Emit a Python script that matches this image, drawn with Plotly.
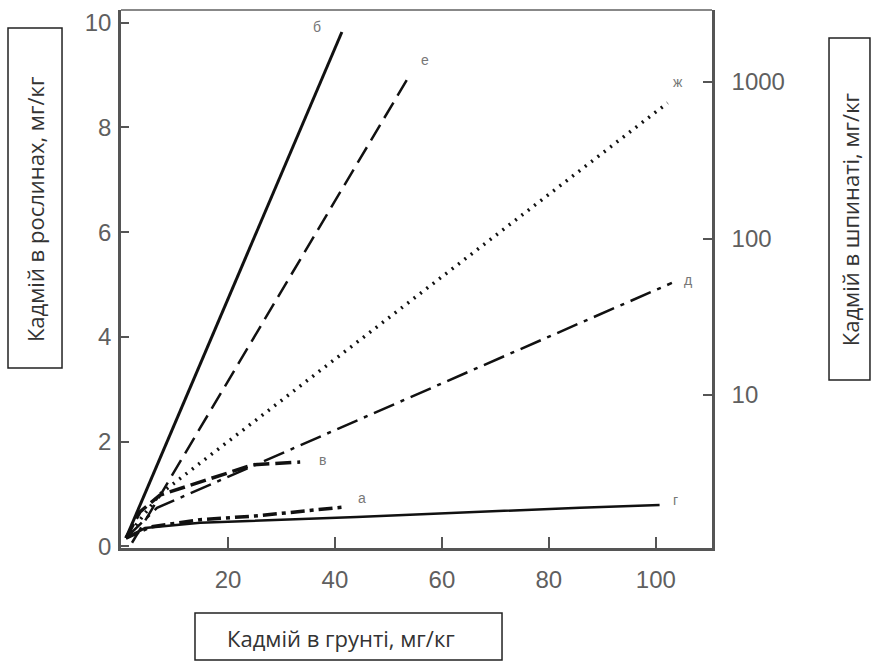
import plotly.graph_objects as go

# ---- data ----
# lines on the left linear axis: Cd in plants, mg/kg
b_x = [0.93, 41.3]
b_y = [0.16, 9.82]
e_x = [2.06, 54.0]
e_y = [0.07, 9.0]
v_x = [0.93, 3.55, 7.29, 17.9, 24.7, 33.5]
v_y = [0.16, 0.66, 0.98, 1.33, 1.56, 1.61]
a_x = [0.93, 5.42, 14.8, 25.0, 41.5]
a_y = [0.16, 0.37, 0.51, 0.58, 0.75]
g_x = [0.93, 4.49, 14.8, 44.1, 85.8, 100.7]
g_y = [0.16, 0.35, 0.45, 0.56, 0.74, 0.79]
# lines on the right log axis: Cd in spinach, mg/kg
zh_x = [0.93, 7.29, 102.2]
zh_y = [1.22, 2.33, 735]
d_x = [0.93, 6.73, 103.0]
d_y = [1.22, 1.90, 52.0]

x_ticks = [20, 40, 60, 80, 100]
y_ticks = [0, 2, 4, 6, 8, 10]
y2_ticks = [10, 100, 1000]

labels = ["б", "е", "ж", "д", "в", "а", "г"]
label_x = [36.6, 56.8, 104.1, 106.0, 37.6, 45.0, 103.6]
label_y = [9.92, 9.29, 8.87, 5.09, 1.65, 0.93, 0.89]

INK = "#111111"
AX = "#555555"
TXT = "#5f5f5f"

fig = go.Figure()

def add(x, y, dash, width, axis="y"):
    fig.add_trace(go.Scatter(x=x, y=y, mode="lines", yaxis=axis,
                             line=dict(color=INK, width=width, dash=dash),
                             showlegend=False, hoverinfo="skip"))

add(b_x, b_y, "solid", 3)
add(e_x, e_y, "18px,8px", 2.5)
add(v_x, v_y, "16px,6px", 3.5)
add(a_x, a_y, "14px,5px,4px,5px", 3.5)
add(g_x, g_y, "solid", 2.5)
add(zh_x, zh_y, "2px,6px", 3.5, "y2")
add(d_x, d_y, "22px,7px,4px,7px", 2.5, "y2")

for t, lx, ly in zip(labels, label_x, label_y):
    fig.add_annotation(x=lx, y=ly, xref="x", yref="y", text=t, showarrow=False,
                       font=dict(family="Liberation Sans", size=14, color="#777777"))

tickfont = dict(family="Liberation Sans", size=24, color=TXT)

fig.update_layout(
    width=875, height=663,
    margin=dict(l=121, r=163, t=10, b=115),
    paper_bgcolor="white", plot_bgcolor="white",
    xaxis=dict(range=[0, 110.5], tickvals=x_ticks, ticks="inside", ticklen=11,
               tickwidth=1.5, tickcolor=AX, showline=True, linecolor=AX, linewidth=2.5,
               showgrid=False, zeroline=False, tickfont=tickfont, ticklabelstandoff=8),
    yaxis=dict(range=[-0.03, 10.24], tickvals=y_ticks, ticks="inside", ticklen=8,
               tickwidth=1.5, tickcolor=AX, showline=True, linecolor=AX, linewidth=2.5,
               showgrid=False, zeroline=False, tickfont=tickfont, ticklabelstandoff=2),
    yaxis2=dict(type="log", range=[0.0224, 3.46], tickvals=y2_ticks,
                ticktext=[str(v) for v in y2_ticks], overlaying="y", side="right",
                ticks="inside", ticklen=9, tickwidth=1.5, tickcolor=AX,
                showline=True, linecolor=AX, linewidth=2.5, showgrid=False,
                zeroline=False, tickfont=tickfont, ticklabelstandoff=12),
)

# top frame line
fig.add_shape(type="line", xref="paper", yref="paper", x0=0, x1=1, y0=1, y1=1,
              line=dict(color="#888888", width=2))

# label boxes
box = dict(color="#222222", width=1.5)
fig.add_shape(type="rect", xref="paper", yref="paper", x0=-0.1912, x1=-0.0998,
              y0=0.3346, y1=0.9665, line=box)
fig.add_shape(type="rect", xref="paper", yref="paper", x0=1.198, x1=1.2673,
              y0=0.3123, y1=0.948, line=box)
fig.add_shape(type="rect", xref="paper", yref="paper", x0=0.1252, x1=0.6447,
              y0=-0.2082, y1=-0.1208, line=box)

bfont = dict(family="Open Sans", size=22, color="#333333")
fig.add_annotation(xref="paper", yref="paper", x=-0.1455, y=0.630,
                   xanchor="center", yanchor="middle",
                   text="Кадмій в рослинах, мг/кг", textangle=-90, showarrow=False, font=bfont)
fig.add_annotation(xref="paper", yref="paper", x=1.2326, y=0.612,
                   xanchor="center", yanchor="middle",
                   text="Кадмій в шпинаті, мг/кг", textangle=-90, showarrow=False, font=bfont)
fig.add_annotation(xref="paper", yref="paper", x=0.3723, y=-0.1673,
                   xanchor="center", yanchor="middle",
                   text="Кадмій в грунті, мг/кг", showarrow=False, font=bfont)

fig.write_html("out.html")
